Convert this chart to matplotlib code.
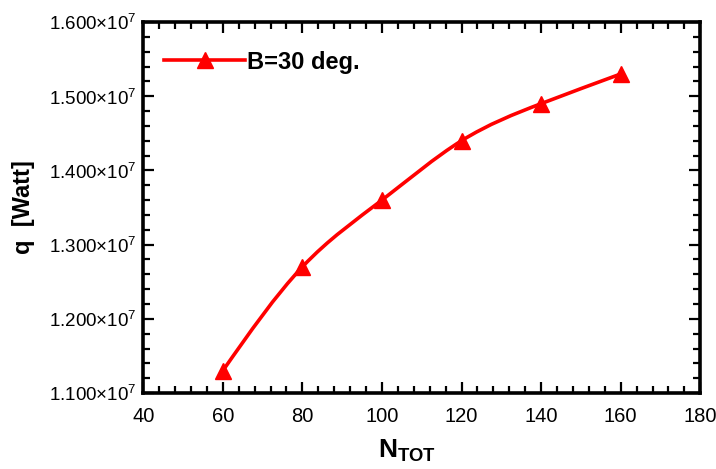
import numpy as np
import matplotlib.pyplot as plt
from matplotlib.path import Path
from matplotlib.patches import PathPatch
from matplotlib.ticker import MultipleLocator, FuncFormatter

plt.rcParams['font.family'] = ['Liberation Sans', 'DejaVu Sans']
plt.rcParams['mathtext.fontset'] = 'custom'
plt.rcParams['mathtext.rm'] = 'Liberation Sans'
plt.rcParams['mathtext.bf'] = 'Liberation Sans:bold'

# heat rate vs total number of tubes
n_tot = np.array([60, 80, 100, 120, 140, 160])
q_watt = np.array([1.13e7, 1.27e7, 1.36e7, 1.44e7, 1.49e7, 1.53e7])
series_label = 'B=30 deg.'

fig = plt.figure(figsize=(7.16, 4.69), dpi=100)
ax = fig.add_axes([0.2, 0.162, 0.778, 0.791])

# natural cubic spline through the points, drawn as Bezier segments
x = n_tot.astype(float)
y = q_watt
n = len(x)
h = np.diff(x)
A = np.zeros((n, n))
b = np.zeros(n)
A[0, 0], A[0, 1] = 2 / h[0], 1 / h[0]
b[0] = 3 * (y[1] - y[0]) / h[0] ** 2
for i in range(1, n - 1):
    A[i, i - 1] = 1 / h[i - 1]
    A[i, i] = 2 / h[i - 1] + 2 / h[i]
    A[i, i + 1] = 1 / h[i]
    b[i] = 3 * ((y[i] - y[i - 1]) / h[i - 1] ** 2 + (y[i + 1] - y[i]) / h[i] ** 2)
A[-1, -2], A[-1, -1] = 1 / h[-1], 2 / h[-1]
b[-1] = 3 * (y[-1] - y[-2]) / h[-1] ** 2
m = np.linalg.solve(A, b)

verts = [(x[0], y[0])]
codes = [Path.MOVETO]
for i in range(n - 1):
    d = h[i] / 3
    verts += [(x[i] + d, y[i] + m[i] * d),
              (x[i + 1] - d, y[i + 1] - m[i + 1] * d),
              (x[i + 1], y[i + 1])]
    codes += [Path.CURVE4] * 3
ax.add_patch(PathPatch(Path(verts, codes), fill=False, edgecolor='red', lw=2.6))

ax.plot(n_tot, q_watt, ls='none', marker='^', ms=11.5, color='red')
ax.plot([], [], color='red', lw=2.6, marker='^', ms=11.5, label=series_label)

ax.set_xlim(40, 180)
ax.set_ylim(1.1e7, 1.6e7)
ax.xaxis.set_major_locator(MultipleLocator(20))
ax.xaxis.set_minor_locator(MultipleLocator(4))
ax.yaxis.set_major_locator(MultipleLocator(0.1e7))
ax.yaxis.set_minor_locator(MultipleLocator(0.02e7))
ax.yaxis.set_major_formatter(FuncFormatter(lambda v, p: f'{v/1e7:.3f}\u00d710$^{{7}}$'))

ax.tick_params(which='both', direction='in', top=True, right=True, width=1.6)
ax.tick_params(axis='x', labelsize=14.5, pad=10)
ax.tick_params(axis='y', labelsize=13.5, pad=5)
ax.tick_params(which='major', length=8)
ax.tick_params(which='minor', length=5)
for s in ax.spines.values():
    s.set_linewidth(2.6)

ax.set_xlabel(r'$\mathbf{N_{TOT}}$', fontsize=19)
ax.xaxis.set_label_coords(0.474, -0.122)
ax.set_ylabel('q  [Watt]', fontsize=17, fontweight='bold', labelpad=10)

leg = ax.legend(loc='upper left', bbox_to_anchor=(0, 0.98), frameon=False,
                handlelength=3.4, handletextpad=0.1, borderaxespad=0.5,
                prop={'size': 17, 'weight': 'bold'})

fig.savefig('out.png', dpi=100)
